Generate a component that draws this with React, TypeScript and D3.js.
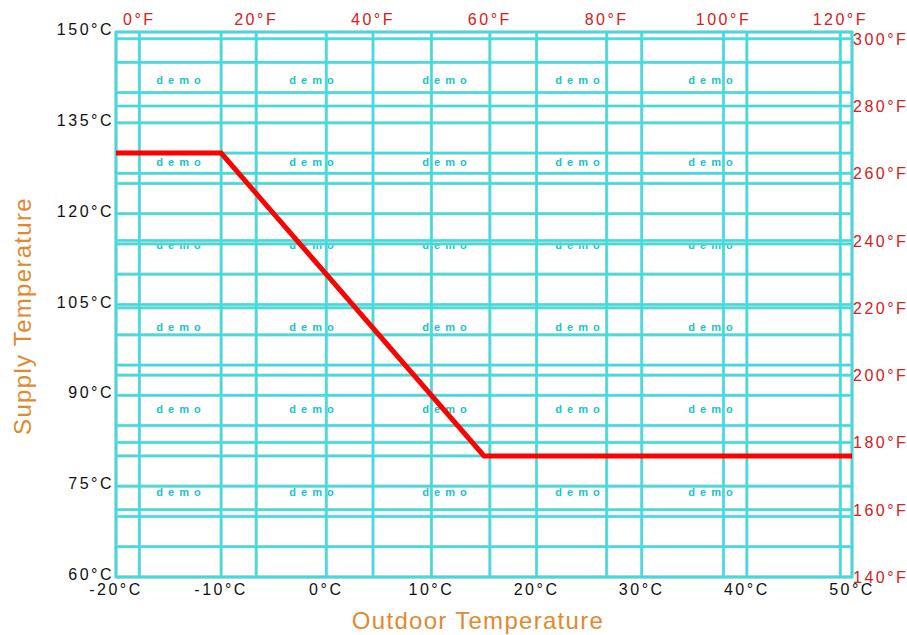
import * as d3 from "d3";

// heating curve: supply temperature vs outdoor temperature (°C)
const outdoorC = [-20, -10, 15, 50];
const supplyC = [130, 130, 80, 80];

const xTicksC = [-20, -10, 0, 10, 20, 30, 40, 50];
const xTicksF = [0, 20, 40, 60, 80, 100, 120];
const yTicksC = [60, 75, 90, 105, 120, 135, 150];
const yMinorC = [65, 70, 80, 85, 95, 100, 110, 115, 125, 130, 140, 145];
const yTicksF = [140, 160, 180, 200, 220, 240, 260, 280, 300];

const wmCols = [0, 1, 2, 3, 4];
const wmRows = [0, 1, 2, 3, 4, 5];

const W = 907;
const H = 635;
const margin = { top: 32, right: 55, bottom: 60, left: 116 };

const GRID = "#30e2e2";
const GRID_EDGE = "#b2cccc";
const FONT = "'Liberation Sans', Arial, sans-serif";

export default function App() {
  const x = d3.scaleLinear().domain([-20, 50]).range([margin.left, W - margin.right]);
  const xF = d3.scaleLinear().domain([-4, 122]).range([margin.left, W - margin.right]);
  const y = d3.scaleLinear().domain([60, 150]).range([H - margin.bottom + 2, margin.top]);
  const yF = d3.scaleLinear().domain([140, 302]).range([H - margin.bottom + 2, margin.top]);

  const x0 = x.range()[0];
  const x1 = x.range()[1];
  const yb = y.range()[0];
  const yt = y.range()[1];

  const hLines = [
    ...yTicksC.map((d) => y(d)),
    ...yMinorC.map((d) => y(d)),
    ...yTicksF.map((d) => yF(d)),
  ];
  const vLines = [...xTicksC.map((d) => x(d)), ...xTicksF.map((d) => xF(d))];

  const line = d3
    .line<number>()
    .x((_, i) => x(outdoorC[i]))
    .y((d) => y(d));

  const grid = (stroke: string, w: number) => (
    <g stroke={stroke} strokeWidth={w} fill="none">
      {hLines.map((v, i) => (
        <line key={"h" + i} x1={x0} x2={x1} y1={v} y2={v} />
      ))}
      {vLines.map((v, i) => (
        <line key={"v" + i} x1={v} x2={v} y1={yt} y2={yb} />
      ))}
      <rect x={x0} y={yt} width={x1 - x0} height={yb - yt} />
    </g>
  );

  return (
    <svg
      width={W}
      height={H}
      style={{ position: "absolute", left: 0, top: 0, background: "#fff" }}
      fontFamily={FONT}
    >
      {/* watermark */}
      <g fill="#20c4c4" fontSize={11} fontWeight="bold" textAnchor="middle" letterSpacing={5}>
        {wmRows.map((r) =>
          wmCols.map((c) => (
            <text key={r + "-" + c} x={181 + c * 133} y={84 + r * 82.3}>
              demo
            </text>
          ))
        )}
      </g>

      {grid(GRID_EDGE, 3.2)}
      {grid(GRID, 2)}

      {/* curve */}
      <path
        d={line(supplyC) ?? ""}
        fill="none"
        stroke="#ff0000"
        strokeWidth={5}
        strokeLinejoin="miter"
      />

      {/* left °C ticks */}
      <g fill="#111" fontSize={16} textAnchor="end" letterSpacing={2.5}>
        {yTicksC.map((d) => (
          <text key={d} x={x0 - 2} y={y(d) + 3}>
            {d}°C
          </text>
        ))}
      </g>

      {/* right °F ticks */}
      <g fill="#d42020" fontSize={16} textAnchor="start" letterSpacing={2.5}>
        {yTicksF.map((d) => (
          <text key={d} x={x1 + 1} y={yF(d) + 6}>
            {d}°F
          </text>
        ))}
      </g>

      {/* bottom °C ticks */}
      <g fill="#111" fontSize={16} textAnchor="middle" letterSpacing={2.5}>
        {xTicksC.map((d) => (
          <text key={d} x={x(d)} y={yb + 18}>
            {d}°C
          </text>
        ))}
      </g>

      {/* top °F ticks */}
      <g fill="#d42020" fontSize={16} textAnchor="middle" letterSpacing={2.5}>
        {xTicksF.map((d) => (
          <text key={d} x={xF(d)} y={yt - 7}>
            {d}°F
          </text>
        ))}
      </g>

      <text
        x={478}
        y={629}
        fill="#e08a30"
        fontSize={24}
        textAnchor="middle"
        letterSpacing={1.3}
      >
        Outdoor Temperature
      </text>
      <text
        transform={`translate(31,316) rotate(-90)`}
        fill="#e08a30"
        fontSize={24}
        textAnchor="middle"
        letterSpacing={1.3}
      >
        Supply Temperature
      </text>
    </svg>
  );
}
